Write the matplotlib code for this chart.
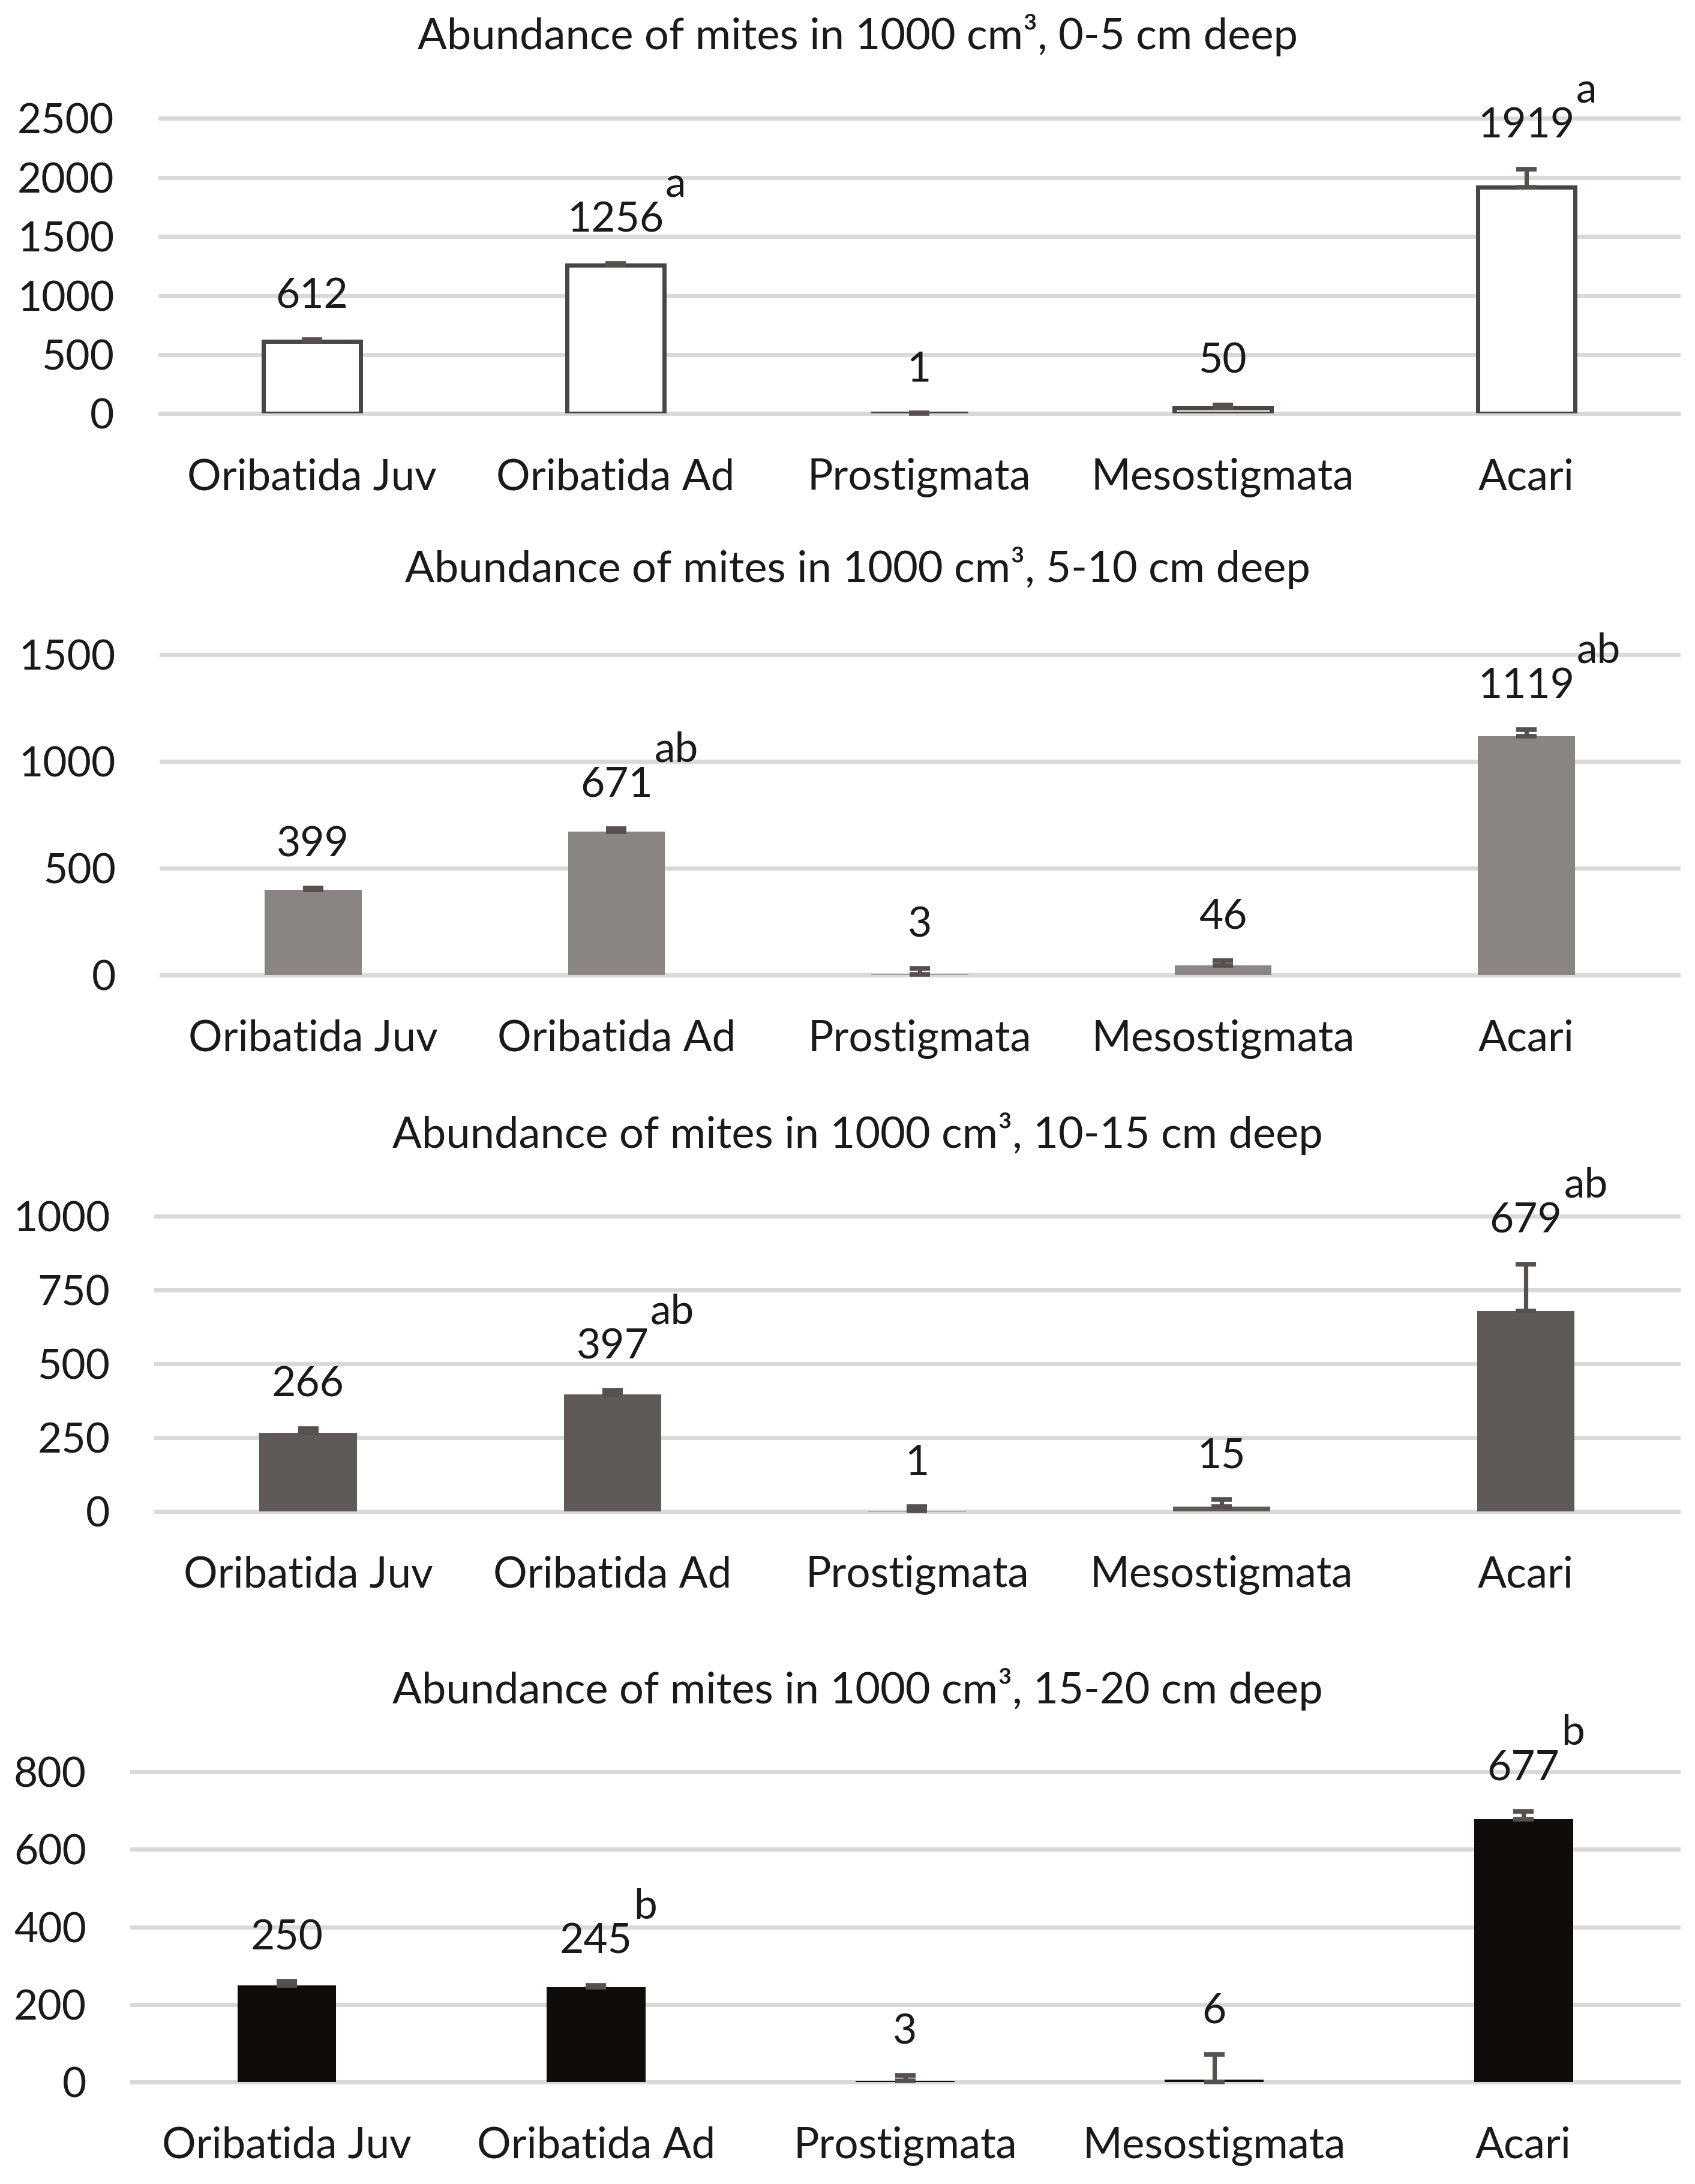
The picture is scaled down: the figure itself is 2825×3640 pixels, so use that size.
import numpy as np
import matplotlib
matplotlib.use("Agg")
import matplotlib.pyplot as plt

plt.rcParams['font.family'] = ['Lato', 'DejaVu Sans']

categories = ["Oribatida Juv", "Oribatida Ad", "Prostigmata", "Mesostigmata", "Acari"]
depth_titles = [
    "Abundance of mites in 1000 cm\u00b3, 0-5 cm deep",
    "Abundance of mites in 1000 cm\u00b3, 5-10 cm deep",
    "Abundance of mites in 1000 cm\u00b3, 10-15 cm deep",
    "Abundance of mites in 1000 cm\u00b3, 15-20 cm deep",
]

vals_0_5 = [612, 1256, 1, 50, 1919]
vals_5_10 = [399, 671, 3, 46, 1119]
vals_10_15 = [266, 397, 1, 15, 679]
vals_15_20 = [250, 245, 3, 6, 677]

err_up_0_5 = [15, 15, 5, 25, 150]
err_up_5_10 = [8, 15, 27, 22, 30]
err_up_10_15 = [15, 13, 15, 25, 158]
err_up_15_20 = [10, 5, 14, 65, 20]

err_low_0_5 = [0, 0, 0, 0, 0]
err_low_5_10 = [0, 0, 0, 0, 0]
err_low_10_15 = [0, 0, 0, 0, 0]
err_low_15_20 = [0, 0, 0, 6, 0]

letters_0_5 = ["", "a", "", "", "a"]
letters_5_10 = ["", "ab", "", "", "ab"]
letters_10_15 = ["", "ab", "", "", "ab"]
letters_15_20 = ["", "b", "", "", "b"]

y_max = [2500, 1500, 1000, 800]
y_step = [500, 500, 250, 200]

values = [vals_0_5, vals_5_10, vals_10_15, vals_15_20]
errs_up = [err_up_0_5, err_up_5_10, err_up_10_15, err_up_15_20]
errs_low = [err_low_0_5, err_low_5_10, err_low_10_15, err_low_15_20]
letters = [letters_0_5, letters_5_10, letters_10_15, letters_15_20]

face_colors = ["white", "#8a8482", "#5f5a58", "#0f0c0a"]
edge_colors = ["#4a4442", "none", "none", "none"]
err_color = "#56504e"
grid_color = "#d9d9d9"
text_color = "#1a1a1a"

W, H = 2825, 3640
fig = plt.figure(figsize=(W / 100, H / 100), dpi=100)

# axes rectangles in figure fraction (left, bottom, width, height)
rects = [
    (0.0945, 0.8106, 0.8955, 0.1352),
    (0.0953, 0.5536, 0.8947, 0.1467),
    (0.0920, 0.3080, 0.8980, 0.1352),
    (0.0780, 0.0466, 0.9120, 0.1422),
]
title_y = [0.984, 0.740, 0.481, 0.2264]

FS = 50
x = np.arange(len(categories))
for k in range(4):
    ax = fig.add_axes(rects[k])
    v = np.array(values[k], dtype=float)
    eu = np.array(errs_up[k], dtype=float)
    el = np.array(errs_low[k], dtype=float)
    ax.bar(x, v, width=0.32, color=face_colors[k], edgecolor=edge_colors[k],
           linewidth=5 if k == 0 else 0, zorder=2)
    eb = ax.errorbar(x, v, yerr=[el, eu], fmt='none', ecolor=err_color,
                     elinewidth=5.2, capsize=12.5, capthick=5.5, zorder=3)
    for art in eb.lines[1]:
        art.set_clip_on(False)
    for art in eb.lines[2]:
        art.set_clip_on(False)
    ax.set_xlim(-0.5, len(categories) - 0.5)
    ax.set_ylim(0, y_max[k])
    ax.set_yticks(np.arange(0, y_max[k] + 1, y_step[k]))
    ax.set_xticks(x)
    ax.set_xticklabels(categories)
    ax.tick_params(axis='both', length=0, labelsize=FS, colors=text_color)
    ax.tick_params(axis='y', pad=55)
    ax.tick_params(axis='x', pad=53, labelsize=51)
    for s in ax.spines.values():
        s.set_visible(False)
    ax.yaxis.grid(True, color=grid_color, linewidth=5)
    ax.set_axisbelow(True)
    for gl in ax.get_ygridlines():
        gl.set_clip_on(False)
    for i in range(len(categories)):
        t = ax.annotate(str(int(v[i])), xy=(x[i], v[i] + eu[i]), xytext=(0, 52),
                        textcoords='offset points', ha='center', va='center',
                        fontsize=FS, color=text_color, annotation_clip=False)
        if letters[k][i]:
            ax.annotate(letters[k][i], xy=(1, 0.5), xycoords=t, xytext=(2, 42),
                        textcoords='offset points', ha='left', va='center',
                        fontsize=FS, color=text_color, annotation_clip=False)
    fig.text(0.506, title_y[k], depth_titles[k], ha='center', va='center',
             fontsize=52, color=text_color)

fig.savefig("out.png", dpi=100, facecolor="white")
